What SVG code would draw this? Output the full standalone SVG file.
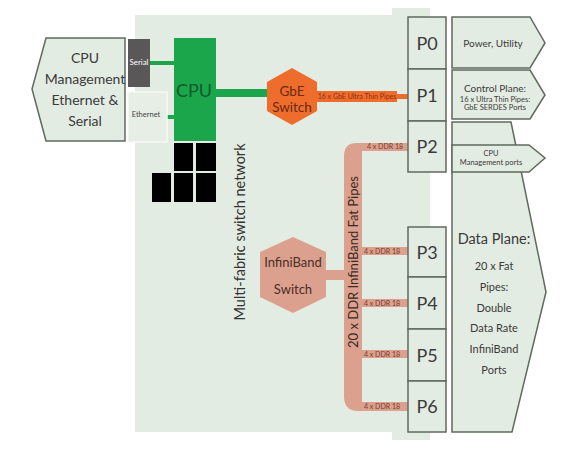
<svg xmlns="http://www.w3.org/2000/svg" width="570" height="450" viewBox="0 0 570 450">
<style>
text{font-family:Lato,"Open Sans","Liberation Sans",sans-serif;text-anchor:middle;fill:#3a3a3a}
.pane{fill:#e3ece2;stroke:#5f6a5f;stroke-width:1.5}
.port{fill:#e3ece2;stroke:#5f6a5f;stroke-width:1.5}
.pt{font-size:18px}
.blk{fill:#000}
.ib{fill:#dca08e}
text.ibt{fill:#7a3b2c;font-size:7px}
.g{fill:#1ca64b}
</style>
<rect width="570" height="450" fill="#fff"/>
<g id="fabric">
<path d="M135,15 H392 V8 H430 V440 H392 V432 H135 Z" fill="#e3ece2"/>
<text transform="translate(245,232) rotate(-90)" font-size="14.5" style="fill:#333">Multi-fabric switch network</text>
</g>
<g id="cpu-mgmt">
<path class="pane" d="M46,38 H125 V141 H46 L32,89 Z"/>
<text x="85" y="63" font-size="14">CPU</text>
<text x="85" y="84" font-size="14">Management</text>
<text x="85" y="105" font-size="14">Ethernet &amp;</text>
<text x="85" y="126" font-size="14">Serial</text>
</g>
<g id="connectors">
<rect class="g" x="150" y="61" width="24" height="4"/>
<rect class="g" x="167" y="115" width="7" height="4"/>
<rect class="g" x="216" y="89" width="54" height="8"/>
<path d="M317,91 H397 V94 H408 V99 H397 V102 H317 Z" fill="#ef6d2c"/>
<text x="357" y="99" font-size="7" style="fill:#8a3210">16 x GbE Ultra Thin Pipes</text>
<path class="ib" d="M408,143 H357 Q344,143 344,156 V396 Q344,411 358,411 H408 V402 H362 V358 H408 V350 H362 V307 H408 V299 H362 V255 H408 V247 H362 V151 H408 Z"/>
<rect class="ib" x="326" y="270" width="20" height="10"/>
<text class="ibt" x="385" y="149">4 x DDR 18</text>
<text class="ibt" x="382" y="253.5">4 x DDR 18</text>
<text class="ibt" x="382" y="305.5">4 x DDR 18</text>
<text class="ibt" x="382" y="356.5">4 x DDR 18</text>
<text class="ibt" x="382" y="409">4 x DDR 18</text>
<text transform="translate(358,262) rotate(-90)" font-size="13" style="fill:#3a2a22">20 x DDR InfiniBand Fat Pipes</text>
</g>
<g id="serial">
<rect x="128" y="39" width="22" height="48" fill="#5a5758"/>
<text x="139" y="65" font-size="7.5" style="fill:#fff" textLength="19" lengthAdjust="spacingAndGlyphs">Serial</text>
</g>
<g id="ethernet">
<rect x="128" y="92" width="39" height="50" fill="#e6eee5" stroke="#f6f9f5" stroke-width="1.5"/>
<text x="146" y="117" font-size="7.5" style="fill:#444">Ethernet</text>
</g>
<g id="cpu">
<rect class="g" x="174" y="38" width="42" height="103"/>
<text x="194" y="97" font-size="18" style="fill:#0f5a2a">CPU</text>
</g>
<g id="memory">
<rect class="blk" x="174" y="143" width="19" height="28"/>
<rect class="blk" x="196" y="143" width="20" height="28"/>
<rect class="blk" x="152" y="173" width="19" height="29"/>
<rect class="blk" x="174" y="173" width="19" height="29"/>
<rect class="blk" x="196" y="173" width="20" height="29"/>
</g>
<g id="gbe-switch">
<path d="M292,68 L317,82 V111 L292,125 L267,111 V82 Z" fill="#ef6d2c"/>
<text x="292" y="96" font-size="13.5" style="fill:#6a2a0e">GbE</text>
<text x="292" y="112" font-size="13.5" style="fill:#6a2a0e">Switch</text>
</g>
<g id="ib-switch">
<path d="M293,237 L326,252 V297 L293,313 L260,297 V252 Z" fill="#dca08e"/>
<text x="293" y="267" font-size="13" style="fill:#4a2e26">InfiniBand</text>
<text x="293" y="294" font-size="13" style="fill:#4a2e26">Switch</text>
</g>
<g id="P0"><rect class="port" x="408" y="17" width="38" height="52"/><text class="pt" x="427" y="50">P0</text></g>
<g id="P1"><rect class="port" x="408" y="69" width="38" height="52"/><text class="pt" x="427" y="102">P1</text></g>
<g id="P2"><rect class="port" x="408" y="121" width="38" height="51"/><text class="pt" x="427" y="153">P2</text></g>
<g id="P3"><rect class="port" x="408" y="227" width="38" height="50"/><text class="pt" x="427" y="259">P3</text></g>
<g id="P4"><rect class="port" x="408" y="277" width="38" height="52"/><text class="pt" x="427" y="310">P4</text></g>
<g id="P5"><rect class="port" x="408" y="329" width="38" height="52"/><text class="pt" x="427" y="362">P5</text></g>
<g id="P6"><rect class="port" x="408" y="381" width="38" height="51"/><text class="pt" x="427" y="413">P6</text></g>
<g id="power">
<path class="pane" d="M452,17 H530 L545,43 L530,68 H452 Z"/>
<text x="493" y="47" font-size="10">Power, Utility</text>
</g>
<g id="control-plane">
<path class="pane" d="M452,70 H530 L545,95 L530,119 H452 Z"/>
<text x="495" y="92" font-size="10">Control Plane:</text>
<text x="495" y="102" font-size="7.5">16 x Ultra Thin Pipes:</text>
<text x="495" y="110" font-size="7.5">GbE SERDES Ports</text>
</g>
<g id="data-plane">
<path class="pane" d="M452,122 H511 L546,292 L512,432 H452 Z"/>
<text x="494" y="244" font-size="14.5">Data Plane:</text>
<text x="494" y="270" font-size="11">20 x Fat</text>
<text x="494" y="291" font-size="11">Pipes:</text>
<text x="494" y="312" font-size="11">Double</text>
<text x="494" y="332" font-size="11">Data Rate</text>
<text x="494" y="353" font-size="11">InfiniBand</text>
<text x="494" y="374" font-size="11">Ports</text>
</g>
<g id="cpu-mgmt-ports">
<path class="pane" d="M452,145 H529 L545,158 L529,172 H452 Z"/>
<text x="491" y="156" font-size="7.5">CPU</text>
<text x="491" y="165" font-size="7.5">Management ports</text>
</g>
</svg>
